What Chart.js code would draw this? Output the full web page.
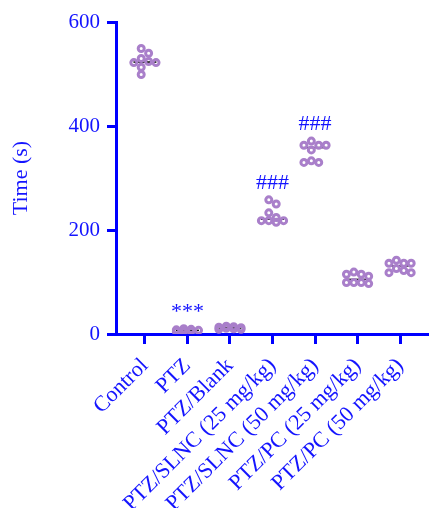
<!DOCTYPE html>
<html>
<head>
<meta charset="utf-8">
<script src="https://cdn.jsdelivr.net/npm/chart.js@4/dist/chart.umd.min.js"></script>
<style>
  html, body { margin: 0; padding: 0; background: #ffffff; }
  #c { display: block; }
</style>
</head>
<body>
<canvas id="c" width="429" height="508"></canvas>
<script>
// Group names along the x axis
const groups = [
  'Control',
  'PTZ',
  'PTZ/Blank',
  'PTZ/SLNC (25 mg/kg)',
  'PTZ/SLNC (50 mg/kg)',
  'PTZ/PC (25 mg/kg)',
  'PTZ/PC (50 mg/kg)'
];

// Individual measurements (s) for each group
const control   = [549, 540, 530, 524, 522, 522, 513, 499];
const ptz       = [10, 9, 8, 7, 7, 6, 5, 5];
const ptzBlank  = [15, 14, 13, 12, 11, 10, 9, 9];
const slnc25    = [258, 250, 233, 224, 218, 218, 218, 215];
const slnc50    = [371, 363, 363, 363, 354, 333, 330, 330];
const pc25      = [119, 115, 115, 111, 99, 99, 99, 97];
const pc50      = [142, 136, 136, 136, 126, 122, 118, 118];

const series = [control, ptz, ptzBlank, slnc25, slnc50, pc25, pc50];

// Significance marks written above each group
const marks = ['', '***', '', '###', '###', '', ''];

// Y axis ticks
const yTicks = [0, 200, 400, 600];

const BLUE = '#0000ff';
const TEXT_BLUE = '#1414ff';
const DOT = '#a97fca';
const SERIF = "'Liberation Serif', 'Times New Roman', serif";

const points = [];
series.forEach((vals, gi) => vals.forEach(v => points.push({ x: gi, y: v })));

const median = arr => {
  const s = arr.slice().sort((a, b) => a - b);
  const m = Math.floor(s.length / 2);
  return s.length % 2 ? s[m] : (s[m - 1] + s[m]) / 2;
};

// Let the x axis run right up to the canvas edge
const fullWidthAxis = {
  id: 'fullWidthAxis',
  afterLayout(chart) {
    const a = chart.chartArea;
    const x = chart.scales.x;
    a.right = chart.width;
    a.width = a.right - a.left;
    x.right = chart.width;
    x.width = x.right - x.left;
    x.configure();
  }
};

// Spread overlapping points sideways (beeswarm) in pixel space
const swarm = {
  id: 'swarm',
  afterDatasetUpdate(chart, args) {
    const meta = args.meta;
    const data = chart.data.datasets[args.index].data;
    const SLOT = 7.4, MIN_D = 7.2, SLOTS = [-0.5, 0.5, -1.5, 1.5];
    const byGroup = {};
    meta.data.forEach((el, j) => {
      const g = data[j].x;
      (byGroup[g] = byGroup[g] || []).push(el);
    });
    Object.values(byGroup).forEach(els => {
      const cx = els[0].x;
      const placed = [];
      els.slice().sort((a, b) => a.y - b.y).forEach(el => {
        let best = cx, bestScore = -1;
        for (const s of SLOTS) {
          const x = cx + s * SLOT;
          let dmin = Infinity;
          placed.forEach(p => { dmin = Math.min(dmin, Math.hypot(p.x - x, p.y - el.y)); });
          if (dmin >= MIN_D) { best = x; break; }
          if (dmin > bestScore) { bestScore = dmin; best = x; }
        }
        el.x = best;
        placed.push({ x: best, y: el.y });
      });
    });
  }
};

// Median bars behind the points, significance marks above the groups
const decorations = {
  id: 'decorations',
  beforeDatasetsDraw(chart) {
    const { ctx, scales: { x, y } } = chart;
    const hw = (x.getPixelForValue(1) - x.getPixelForValue(0)) * 0.27;
    ctx.save();
    ctx.strokeStyle = '#000000';
    ctx.lineWidth = 1.5;
    series.forEach((vals, i) => {
      const px = x.getPixelForValue(i);
      const py = y.getPixelForValue(median(vals));
      ctx.beginPath();
      ctx.moveTo(px - hw, py);
      ctx.lineTo(px + hw, py);
      ctx.stroke();
    });
    ctx.restore();
  },
  afterDatasetsDraw(chart) {
    const { ctx, scales: { x, y } } = chart;
    ctx.save();
    ctx.fillStyle = TEXT_BLUE;
    ctx.font = '22px ' + SERIF;
    ctx.textAlign = 'center';
    ctx.textBaseline = 'alphabetic';
    marks.forEach((m, i) => {
      if (!m) return;
      const top = y.getPixelForValue(Math.max(...series[i]));
      ctx.fillText(m, x.getPixelForValue(i), top - 11);
    });
    ctx.restore();
  }
};

new Chart(document.getElementById('c'), {
  type: 'scatter',
  data: {
    datasets: [{
      data: points,
      pointStyle: 'circle',
      pointRadius: 3,
      pointHoverRadius: 3,
      pointBorderWidth: 3,
      pointBorderColor: DOT,
      pointBackgroundColor: 'rgba(0,0,0,0)'
    }]
  },
  options: {
    responsive: false,
    devicePixelRatio: 1,
    animation: false,
    events: [],
    layout: { padding: { top: 22, right: 0, bottom: 0, left: 0 } },
    plugins: { legend: { display: false }, tooltip: { enabled: false } },
    scales: {
      x: {
        type: 'linear',
        min: -0.68,
        max: 6.68,
        afterBuildTicks: s => { s.ticks = groups.map((_, i) => ({ value: i })); },
        afterFit: s => { s.height = 174; s.paddingLeft = 0; s.paddingRight = 0; },
        ticks: {
          autoSkip: false,
          minRotation: 45,
          maxRotation: 45,
          padding: 9,
          color: TEXT_BLUE,
          font: { family: SERIF, size: 22 },
          callback: v => groups[v]
        },
        grid: {
          drawOnChartArea: false,
          drawTicks: true,
          tickLength: 10,
          tickWidth: 3,
          tickColor: BLUE
        },
        border: { display: true, color: BLUE, width: 3 }
      },
      y: {
        type: 'linear',
        min: 0,
        max: 600,
        afterBuildTicks: s => { s.ticks = yTicks.map(v => ({ value: v })); },
        afterFit: s => { s.width = 116; s.paddingTop = 0; s.paddingBottom = 0; },
        ticks: {
          padding: 7,
          color: TEXT_BLUE,
          font: { family: SERIF, size: 21 }
        },
        title: {
          display: true,
          text: 'Time (s)',
          color: TEXT_BLUE,
          font: { family: SERIF, size: 22 },
          padding: { top: 8, bottom: 0 }
        },
        grid: {
          drawOnChartArea: false,
          drawTicks: true,
          tickLength: 9,
          tickWidth: 3,
          tickColor: BLUE
        },
        border: { display: true, color: BLUE, width: 3 }
      }
    }
  },
  plugins: [fullWidthAxis, swarm, decorations]
});
</script>
</body>
</html>
